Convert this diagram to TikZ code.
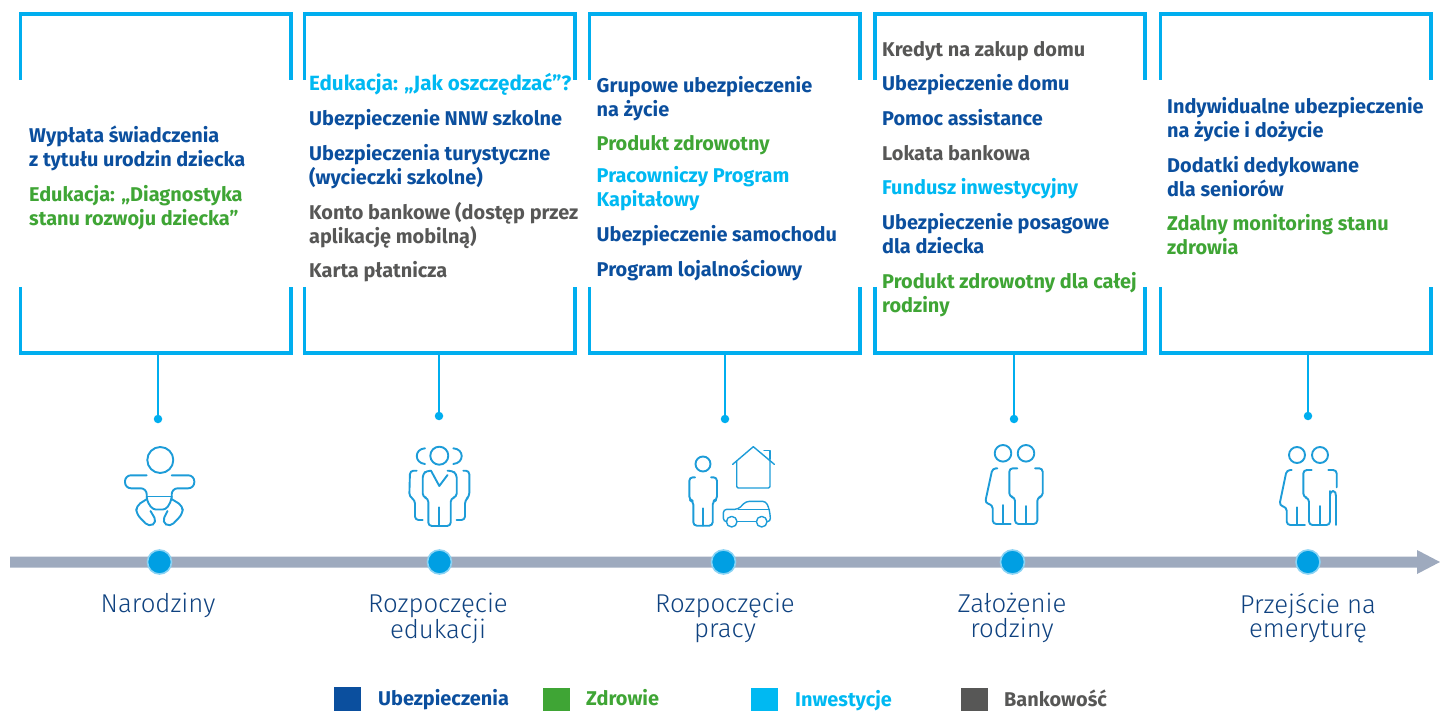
\documentclass[tikz,border=0pt]{standalone}
\usepackage{fontspec}
\setmainfont{Fira Sans}
\newfontfamily\lblfont{Fira Sans Light}
\definecolor{navy}{HTML}{0B4F9E}
\definecolor{grn}{HTML}{3FA535}
\definecolor{cyn}{HTML}{00B9F2}
\definecolor{gry}{HTML}{575756}
\definecolor{frame}{HTML}{00AEEF}
\definecolor{axis}{HTML}{9EAABE}
\definecolor{dotc}{HTML}{009FE3}
\definecolor{ring}{HTML}{8AD3F4}
\definecolor{icon}{HTML}{1D9CD8}
\definecolor{lbl}{HTML}{0F4280}
\tikzset{
 bracket/.style={draw=frame,line width=3.1pt,line cap=butt,line join=miter},
 stem/.style={draw=frame,line width=1.8pt},
 enddot/.style={circle,fill=frame,minimum size=8.5pt,inner sep=0pt},
 axisdot/.style={circle,fill=dotc,draw=ring,line width=1.6pt,minimum size=24pt,inner sep=0pt},
 item/.style={anchor=north west,inner sep=0pt,align=left,text height=14pt,font=\fontsize{19.9}{24}\selectfont\bfseries},
 stage/.style={anchor=north,inner sep=0pt,align=center,text=lbl,font=\fontsize{25.8}{24.5}\selectfont\lblfont},
 swatch/.style={anchor=north west,inner sep=0pt,minimum width=27pt,minimum height=24pt},
 legendtext/.style={anchor=base west,inner sep=0pt,font=\fontsize{19.9}{24}\selectfont\bfseries},
 ic/.style={draw=icon,line width=1.9pt,line cap=round,line join=round,rounded corners=3.5pt},
 icthin/.style={ic,line width=1.4pt},
}
\newcommand{\stagebox}[5]{%
 \coordinate (#1) at (#3,353);
 \draw[bracket] (#2,80) -- (#2,14) -- (#4,14) -- (#4,80);
 \draw[bracket] (#2,287) -- (#2,353) -- (#4,353) -- (#4,287);
 \node[enddot] (#1d) at (#3,#5) {};
 \draw[stem] (#1) -- (#1d);
}
\newcommand{\entry}[5]{\node[item,text=#4] (#1) at (#2,#3) {#5};}
\begin{document}
\begin{tikzpicture}[x=1pt,y=-1pt]
\useasboundingbox (0,0) rectangle (1440,711);
\stagebox{a}{20.5}{158}{291}{419}
\stagebox{b}{304.5}{439}{575}{416}
\stagebox{c}{589.5}{725}{860}{419}
\stagebox{d}{875}{1014}{1145}{419}
\stagebox{e}{1160.5}{1308}{1431}{416}

\entry{a1}{29}{152}{navy}{Wypłata świadczenia\\z tytułu urodzin dziecka}
\entry{a2}{29}{211}{grn}{Edukacja: „Diagnostyka\\stanu rozwoju dziecka”}

\entry{b1}{309}{76}{cyn}{\fontsize{20.6}{24}\selectfont Edukacja: „Jak oszczędzać”?}
\entry{b2}{309}{111}{navy}{Ubezpieczenie NNW szkolne}
\entry{b3}{309}{170}{navy}{Ubezpieczenia turystyczne\\(wycieczki szkolne)}
\entry{b4}{309}{229}{gry}{Konto bankowe (dostęp przez\\aplikację mobilną)}
\entry{b5}{309}{263}{gry}{Karta płatnicza}

\entry{c1}{596.5}{102}{navy}{Grupowe ubezpieczenie\\na życie}
\entry{c2}{596.5}{136}{grn}{Produkt zdrowotny}
\entry{c3}{596.5}{192}{cyn}{Pracowniczy Program\\Kapitałowy}
\entry{c4}{596.5}{227}{navy}{Ubezpieczenie samochodu}
\entry{c5}{596.5}{262}{navy}{Program lojalnościowy}

\entry{d1}{882}{42}{gry}{Kredyt na zakup domu}
\entry{d2}{882}{76}{navy}{Ubezpieczenie domu}
\entry{d3}{882}{111}{navy}{Pomoc assistance}
\entry{d4}{882}{146}{gry}{Lokata bankowa}
\entry{d5}{882}{180}{cyn}{Fundusz inwestycyjny}
\entry{d6}{882}{239}{navy}{Ubezpieczenie posagowe\\dla dziecka}
\entry{d7}{882}{298}{grn}{Produkt zdrowotny dla całej\\rodziny}

\entry{e1}{1167}{123}{navy}{Indywidualne ubezpieczenie\\na życie i dożycie}
\entry{e2}{1167}{182}{navy}{Dodatki dedykowane\\dla seniorów}
\entry{e3}{1167}{240}{grn}{Zdalny monitoring stanu\\zdrowia}

% timeline
\fill[axis] (10,556.5) -- (1417,556.5) -- (1417,550) -- (1440,562) -- (1417,574) -- (1417,567.5) -- (10,567.5) -- cycle;
\node[axisdot] (p1) at (159.5,562) {};
\node[axisdot] (p2) at (439.5,562) {};
\node[axisdot] (p3) at (723.5,562) {};
\node[axisdot] (p4) at (1012.5,562) {};
\node[axisdot] (p5) at (1308,562) {};

\node[stage] (s1) at (158,593) {Narodziny};
\node[stage] (s2) at (438,593) {Rozpoczęcie\\edukacji};
\node[stage] (s3) at (725,593) {Rozpoczęcie\\pracy};
\node[stage] (s4) at (1012,593) {Założenie\\rodziny};
\node[stage] (s5) at (1308,593) {Przejście na\\emeryturę};

% legend
\node[swatch,fill=navy] (l1) at (334,687) {};
\node[swatch,fill=grn] (l2) at (543,688) {};
\node[swatch,fill=cyn] (l3) at (751,688) {};
\node[swatch,fill=gry] (l4) at (961,688) {};
\node[legendtext,text=navy] (t1) at (378,705) {Ubezpieczenia};
\node[legendtext,text=grn] (t2) at (586,705) {Zdrowie};
\node[legendtext,text=cyn] (t3) at (795,706) {Inwestycje};
\node[legendtext,text=gry] (t4) at (1004,706) {Bankowość};

% baby
\draw[ic] (160.3,460) circle (13);
\draw[ic,rounded corners=6pt] (146.7,475.3) -- (125,475.3) -- (125,488.3) -- (146.7,488.3) -- (146.7,497);
\draw[ic,rounded corners=6pt] (171.7,475.3) -- (194.3,475.3) -- (194.3,488.3) -- (171.7,488.3) -- (171.7,497);
\draw[ic] (146.7,496.5) -- (171.7,496.5);
\draw[ic] (146.7,497) .. controls (148,506) and (153,509.5) .. (159.3,509.5) .. controls (166,509.5) and (170,506) .. (171.7,497);
\draw[ic,rounded corners=5pt] (147,499) -- (136,506) -- (136.5,514) -- (149,527) -- (157,522) -- (150.5,511);
\draw[ic,rounded corners=5pt] (171.5,499) -- (183,506) -- (182.5,514) -- (170,527) -- (162,522) -- (167.5,511);
% school figure group
\draw[ic] (439.3,455.7) circle (9);
\draw[ic] (425,448.3) .. controls (414,449) and (414,463) .. (425,464);
\draw[ic] (453.3,448.3) .. controls (464.5,449) and (464.5,463) .. (453.3,464);
\draw[ic] (431,470.7) -- (427,470.7) -- (422.7,474) -- (422.7,497) -- (428.3,498.3) -- (428.3,526) -- (439.3,526) -- (450.7,526) -- (450.7,498.3) -- (456.7,497) -- (456.7,474) -- (452,470.7) -- (447.5,470.7);
\draw[ic,rounded corners=0pt] (431,470.7) -- (439.3,486) -- (447.5,475);
\draw[ic,rounded corners=0pt] (439.3,507.3) -- (439.3,526);
\draw[ic] (416.7,470.7) -- (410,470.7) -- (409.3,496.7) -- (415,500) -- (415,520) -- (422.7,520);
\draw[ic] (463.3,470.7) -- (469.3,470.7) -- (469.3,496.7) -- (465,500) -- (465,520) -- (456.5,520);
% worker, house, car
\draw[ic] (703,464) circle (7.5);
\draw[ic] (695,477.3) -- (689.3,477.3) -- (689.3,500) -- (693.3,501) -- (693.3,525.7) -- (703,525.7) -- (712.7,525.7) -- (712.7,501) -- (717,500) -- (717,477.3) -- (711,477.3);
\draw[ic,rounded corners=0pt] (703,508.3) -- (703,525.7);
\draw[icthin,rounded corners=0pt] (732.7,464.3) -- (753.3,446.7) -- (774.3,464.3);
\draw[icthin,rounded corners=1.5pt] (736.7,461) -- (736.7,488) -- (770,488) -- (770,461);
\draw[icthin,rounded corners=0pt] (764,450.7) -- (770,450.7) -- (770,459.3);
\draw[icthin] (726,521.7) -- (723.3,521.7) -- (723.3,509.3) -- (738.3,509.3) -- (746,501.3) -- (766,501.3) -- (769.5,510) -- (770.7,521.7) -- (767.5,521.7);
\draw[icthin,rounded corners=0pt] (738.3,509.3) -- (769.5,509.3);
\draw[icthin,rounded corners=0pt] (737.3,521.7) -- (756,521.7);
\draw[icthin] (731.7,521.7) circle (5.3);
\draw[icthin] (761.7,521.7) circle (5.3);
% couple
\draw[ic] (1003,453.3) circle (8.3);
\draw[ic] (1026,453.3) circle (8.3);
\draw[ic] (997.3,468.3) -- (992.5,468.3) -- (985,503) -- (992.7,505) -- (992.7,524) -- (1010.7,524);
\draw[ic,rounded corners=0pt] (1003.3,505) -- (1003.3,524);
\draw[ic] (1017.3,468.3) -- (1009.3,468.3) -- (1009.3,496.7) -- (1015,497.3) -- (1015,524) -- (1026,524) -- (1037.3,524) -- (1037.3,497.3) -- (1042.7,496.7) -- (1042.7,468.3) -- (1035,468.3);
\draw[ic,rounded corners=0pt] (1026,506) -- (1026,524);
% seniors
\draw[ic] (1297,455) circle (8);
\draw[ic] (1320,455) circle (8);
\draw[ic] (1291.7,470) -- (1286.7,470) -- (1279.3,505.5) -- (1286.7,507.3) -- (1286.7,525) -- (1305,525);
\draw[ic,rounded corners=0pt] (1297.3,507.3) -- (1297.3,525);
\draw[ic] (1311.7,470) -- (1303.3,470) -- (1303.3,497) -- (1309,498.3) -- (1309,525) -- (1320,525) -- (1330,525) -- (1330,491);
\draw[ic,rounded corners=0pt] (1320,506) -- (1320,525);
\draw[ic,rounded corners=0pt] (1330,496) .. controls (1330,492.5) and (1332,491) .. (1333,491) .. controls (1335,491) and (1336,493) .. (1336,496) -- (1336,525);
\draw[ic] (1328.3,470) -- (1336.7,470) -- (1336.7,487.3);
\end{tikzpicture}
\end{document}
